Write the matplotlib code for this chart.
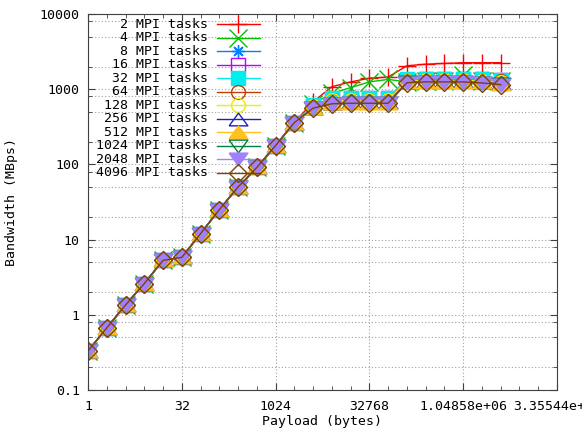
import matplotlib
matplotlib.use('Agg')
import matplotlib.pyplot as plt
from matplotlib.ticker import FixedLocator, NullFormatter

plt.rcParams['font.family'] = ['DejaVu Sans Mono']
plt.rcParams['font.size'] = 9.5

# payload sizes 2^0 .. 2^22 bytes
payload = [2 ** i for i in range(23)]

# bandwidth (MBps), shared part for small payloads (1 .. 2048 bytes)
small = [0.33, 0.67, 1.35, 2.6, 5.3, 5.8, 12, 25, 50, 91, 178, 360]

# bandwidth for 4096 .. 4194304 bytes, per task count
bw_2 = [680, 1080, 1250, 1400, 1450, 2050, 2150, 2200, 2250, 2250, 2250]
bw_4 = [640, 880, 1050, 1250, 1350, 1250, 1280, 1300, 1550, 1300, 1280]
bw_8 = [600, 740, 750, 750, 750, 1320, 1340, 1340, 1340, 1330, 1300]
bw_16 = [600, 750, 760, 760, 760, 1340, 1350, 1350, 1350, 1350, 1330]
bw_32 = [610, 760, 770, 770, 770, 1360, 1370, 1370, 1370, 1360, 1340]
bw_64 = [590, 720, 720, 720, 720, 1300, 1320, 1320, 1320, 1300, 1270]
bw_128 = [590, 720, 720, 720, 720, 1300, 1310, 1310, 1310, 1300, 1260]
bw_256 = [570, 660, 670, 670, 670, 1250, 1270, 1270, 1270, 1240, 1200]
bw_512 = [560, 650, 660, 660, 660, 1240, 1260, 1260, 1260, 1230, 1180]
bw_1024 = [560, 640, 650, 650, 650, 1230, 1250, 1250, 1250, 1220, 1170]
bw_2048 = [560, 640, 650, 650, 650, 1220, 1250, 1250, 1250, 1210, 1150]
bw_4096 = [560, 640, 650, 650, 650, 1220, 1250, 1250, 1250, 1210, 1150]

tasks = [2, 4, 8, 16, 32, 64, 128, 256, 512, 1024, 2048, 4096]
tails = [bw_2, bw_4, bw_8, bw_16, bw_32, bw_64, bw_128, bw_256, bw_512,
         bw_1024, bw_2048, bw_4096]

# gnuplot-like colours and point types (triangles are wide and flat there)
tri_up = [(-1, -0.68), (1, -0.68), (0, 0.68), (-1, -0.68)]
tri_dn = [(-1, 0.68), (1, 0.68), (0, -0.68), (-1, 0.68)]
colors = ['#ff0000', '#00c000', '#0080ff', '#c000ff', '#00eeee', '#c04000',
          '#eeee00', '#2020c0', '#ffc020', '#008040', '#a080ff', '#804000']
markers = ['+', 'x', (8, 2, 0), 's', 's', 'o', 'o', tri_up, tri_up, tri_dn, tri_dn, 'D']
filled = [True, True, True, False, True, False, False, False, True, False, True, False]
sizes = [13, 13, 9, 10, 10, 10, 10, 13.5, 13.5, 13.5, 13.5, 9]

fig = plt.figure(figsize=(5.82, 4.32), dpi=100)
ax = fig.add_axes([88 / 582, 42 / 432, 469 / 582, 376 / 432])

ax.set_xscale('log', base=2)
ax.set_yscale('log')
ax.set_xlim(1, 2 ** 25)
ax.set_ylim(0.1, 10000)

for i in range(len(tasks)):
    c = colors[i]
    kw = dict(color=c, lw=1, marker=markers[i], ms=sizes[i], mec=c, mew=1)
    kw['mfc'] = c if filled[i] else 'none'
    ax.plot(payload, small + tails[i], **kw)
    # legend entry drawn by hand: right-aligned text, sample line with marker
    ly = 0.973 - i * 0.0359
    ax.text(0.256, ly, '%d MPI tasks' % tasks[i], transform=ax.transAxes,
            ha='right', va='center')
    ax.plot([0.275, 0.32, 0.367], [ly, ly, ly], transform=ax.transAxes,
            markevery=[1], clip_on=False, **kw)

xt = [1, 32, 1024, 32768, 2 ** 20, 2 ** 25]
ax.xaxis.set_major_locator(FixedLocator(xt))
ax.set_xticklabels(['1', '32', '1024', '32768', '1.04858e+06', '3.35544e+07'])
ax.xaxis.set_minor_locator(FixedLocator(payload + [2 ** 23, 2 ** 24]))
ax.xaxis.set_minor_formatter(NullFormatter())

yt = [0.1, 1, 10, 100, 1000, 10000]
ax.yaxis.set_major_locator(FixedLocator(yt))
ax.set_yticklabels(['0.1', '1', '10', '100', '1000', '10000'])
ax.yaxis.set_minor_locator(FixedLocator([m * d for d in yt[:-1] for m in (2, 5, 8)]))
ax.yaxis.set_minor_formatter(NullFormatter())

ax.tick_params(which='both', direction='in', top=True, right=True,
               labelsize=9.5, color='#404040')
ax.tick_params(which='major', length=5)
ax.tick_params(axis='x', which='major', pad=7)
ax.tick_params(axis='y', which='major', pad=6)
ax.tick_params(which='minor', length=3)

ax.grid(True, which='major', axis='x', color='#a0a0a0', ls=(0, (1, 2)), lw=0.8)
ax.grid(True, which='both', axis='y', color='#a0a0a0', ls=(0, (1, 2)), lw=0.8)
ax.set_axisbelow(True)
for s in ax.spines.values():
    s.set_color('#404040')

ax.set_xlabel('Payload (bytes)')
ax.xaxis.set_label_coords(0.5, -0.066)
ax.set_ylabel('Bandwidth (MBps)')
ax.yaxis.set_label_coords(-0.149, 0.5)

fig.savefig('out.png', dpi=100)
